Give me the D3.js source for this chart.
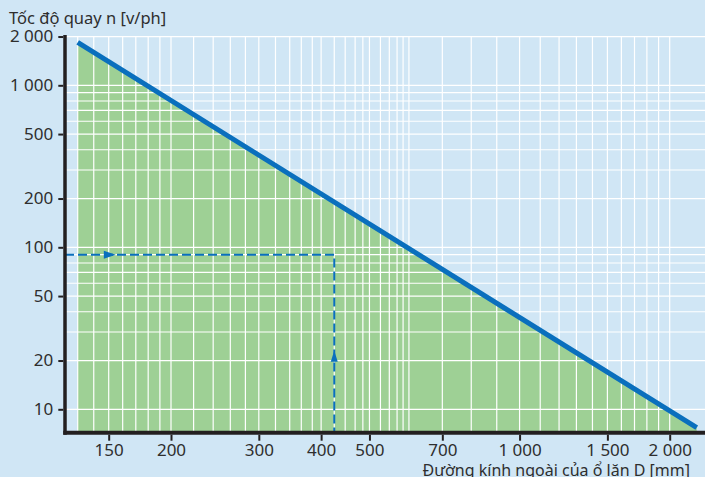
<!DOCTYPE html>
<html>
<head>
<meta charset="utf-8">
<script src="https://cdn.jsdelivr.net/npm/d3@7/dist/d3.min.js"></script>
<style>
  html, body { margin: 0; padding: 0; background: #d0e6f5; }
  svg { display: block; }
  text { font-family: "Noto Sans", "Open Sans", sans-serif; fill: #2e2e2e; }
</style>
</head>
<body>
<div id="chart"></div>
<script>
// ---- data ----
const lineD = [130, 2266];          // outer diameter D [mm]
const lineN = [1840, 7.7];          // speed n [rpm]
const markD = 425;                  // reading example: D
const markN = 90;                   // reading example: n
const arrowD = 155;                 // arrow tip on the horizontal guide
const arrowN = 23;                  // arrow tip on the vertical guide
const xTicks = [150, 200, 300, 400, 500, 700, 1000, 1500, 2000];
const yTicks = [10, 20, 50, 100, 200, 500, 1000, 2000];
const xGrid = [130, 140, 150, 160, 170, 180, 190, 200, 222, 243, 263, 282, 300, 324, 346, 365, 384, 400,
               425, 447, 468, 485, 500, 526, 548, 568, 584, 600, 700, 800, 900, 1000, 1100, 1200, 1300,
               1400, 1500, 1600, 1700, 1800, 1900, 2000];
const yGrid = [10, 20, 30, 40, 50, 60, 70, 80, 90, 100, 200, 300, 400, 500, 600, 700, 800, 900, 1000, 2000];
const yTitle = "Tốc độ quay n [v/ph]";
const xTitle = "Đường kính ngoài của ổ lăn D [mm]";

// ---- layout ----
const W = 705, H = 477;
const plotLeft = 65, plotRight = 705, plotTop = 36.5, plotBottom = 432.7;
const BLUE = "#0a6fbd", GREEN = "#9ed095", AXIS = "#231f20";

const x = d3.scaleLog().domain([200, 2000]).range([171, 669.7]);
const y = d3.scaleLog().domain([10, 1000]).range([409.3, 85.3]);

const fmt = v => d3.format(",")(v).replace(/,/g, " ");

const svg = d3.select("#chart").append("svg").attr("width", W).attr("height", H);
svg.append("rect").attr("width", W).attr("height", H).attr("fill", "#d0e6f5");

// green area under the line
const pts = lineD.map((d, i) => [d, lineN[i]]);
const area = d3.area().x(d => x(d[0])).y0(plotBottom).y1(d => y(d[1]));
svg.append("path").datum(pts).attr("d", area).attr("fill", GREEN);

// grid
const g = svg.append("g");
g.selectAll(".vg").data(xGrid).join("line")
  .attr("x1", d => x(d)).attr("x2", d => x(d))
  .attr("y1", plotTop).attr("y2", plotBottom)
  .attr("stroke", "#fff").attr("stroke-width", 1.2);
g.selectAll(".hg").data(yGrid).join("line")
  .attr("x1", plotLeft).attr("x2", plotRight)
  .attr("y1", d => y(d)).attr("y2", d => y(d))
  .attr("stroke", "#fff").attr("stroke-width", 1.2);

// dashed guide
svg.append("path")
  .attr("d", d3.line()([[plotLeft, y(markN)], [x(markD), y(markN)], [x(markD), plotBottom]]))
  .attr("fill", "none").attr("stroke", BLUE).attr("stroke-width", 2)
  .attr("stroke-dasharray", "9,4");
// arrowheads
const ax = x(arrowD), ay = y(markN);
svg.append("path").attr("d", `M${ax},${ay} L${ax - 12},${ay - 4} L${ax - 12},${ay + 4} Z`).attr("fill", BLUE);
const bx = x(markD), by = y(arrowN);
svg.append("path").attr("d", `M${bx},${by} L${bx - 3.5},${by + 11} L${bx + 3.5},${by + 11} Z`).attr("fill", BLUE);

// main line
svg.append("path").datum(pts)
  .attr("d", d3.line().x(d => x(d[0])).y(d => y(d[1])))
  .attr("fill", "none").attr("stroke", BLUE).attr("stroke-width", 5);

// axes
const yAxis = d3.axisLeft(y).tickValues(yTicks).tickFormat(fmt).tickSize(5).tickPadding(5);
const ya = svg.append("g").attr("transform", `translate(${plotLeft - 1.7},0)`).call(yAxis);
const xAxis = d3.axisBottom(x).tickValues(xTicks).tickFormat(fmt).tickSize(6).tickPadding(3);
const xa = svg.append("g").attr("transform", `translate(0,${plotBottom + 2})`).call(xAxis);
[ya, xa].forEach(a => {
  a.select(".domain").remove();
  a.selectAll(".tick line").attr("stroke", AXIS).attr("stroke-width", 2);
  a.selectAll(".tick text").attr("font-size", 17).attr("fill", "#2e2e2e")
    .style("font-family", '"Noto Sans", sans-serif');
});

svg.append("line").attr("x1", plotLeft).attr("x2", plotLeft).attr("y1", 35).attr("y2", plotBottom + 2)
  .attr("stroke", AXIS).attr("stroke-width", 3.5);
svg.append("line").attr("x1", plotLeft - 1.7).attr("x2", plotRight).attr("y1", plotBottom).attr("y2", plotBottom)
  .attr("stroke", AXIS).attr("stroke-width", 4);

// titles
svg.append("text").attr("x", 9).attr("y", 24).attr("font-size", 16.5).text(yTitle);
svg.append("text").attr("x", 690).attr("y", 476).attr("text-anchor", "end").attr("font-size", 16).text(xTitle);
</script>
</body>
</html>
